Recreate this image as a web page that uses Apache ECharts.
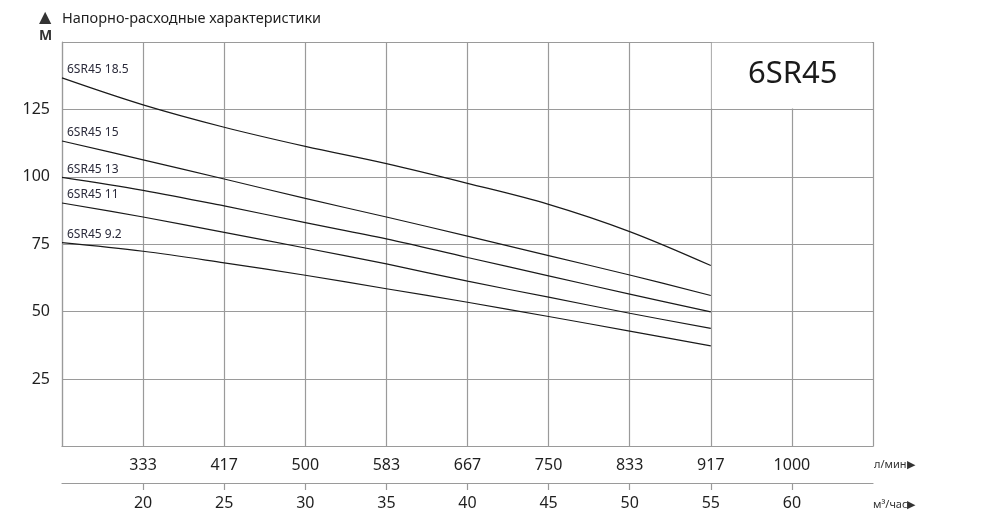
<!DOCTYPE html>
<html>
<head>
<meta charset="utf-8">
<script src="https://cdn.jsdelivr.net/npm/echarts@6/dist/echarts.min.js"></script>
<style>
html,body{margin:0;padding:0;background:#fff;}
#chart{width:993px;height:524px;}
</style>
</head>
<body>
<div id="chart"></div>
<script>
// расход, м3/час
var flow = [15, 20, 25, 30, 35, 40, 45, 50, 55];
// тики нижних осей
var m3Ticks = [20, 25, 30, 35, 40, 45, 50, 55, 60];
var lminTicks = ['333', '417', '500', '583', '667', '750', '833', '917', '1000'];
// напор, м
var head185 = [136.7, 126.7, 118.4, 111.3, 104.9, 97.6, 89.8, 79.7, 67.1];
var head15 = [113.3, 106.3, 99.2, 92.0, 85.1, 78.0, 70.8, 63.6, 56.0];
var head13 = [99.8, 95.0, 89.2, 83.0, 77.0, 70.1, 63.3, 56.5, 49.9];
var head11 = [90.3, 85.1, 79.4, 73.6, 67.7, 61.3, 55.4, 49.4, 43.8];
var head92 = [75.6, 72.4, 68.1, 63.5, 58.5, 53.5, 48.2, 42.8, 37.3];
var names = ['6SR45 18.5', '6SR45 15', '6SR45 13', '6SR45 11', '6SR45 9.2'];

var FONT = 'Noto Sans';
var TXT = '#1f1f1f';
var GRID = '#9a9a9a';

function makeSeries(name, vals, extra) {
	var data = [];
	for (var i = 0; i < flow.length; i++) {
		if (i == 0) {
			data.push({
				value: [flow[i], vals[i]],
				label: {
					show: true,
					formatter: name,
					position: [5, -14],
					fontFamily: FONT,
					fontSize: 12,
					color: '#2a2a3a'
				}
			});
		} else {
			data.push([flow[i], vals[i]]);
		}
	}
	var s = {
		name: name,
		type: 'line',
		data: data,
		smooth: 0.35,
		symbol: 'circle',
		symbolSize: 0,
		showSymbol: true,
		silent: true,
		lineStyle: {color: '#1a1a1a', width: 1.2},
		itemStyle: {color: '#1a1a1a'}
	};
	if (extra) {
		for (var k in extra) s[k] = extra[k];
	}
	return s;
}

var myChart = echarts.init(document.getElementById('chart'));
var option = {
	backgroundColor: '#fff',
	animation: false,
	grid: {
		left: 62,
		right: 120,
		top: 42,
		bottom: 77.5
	},
	xAxis: [{
		type: 'value',
		min: 15,
		max: 65,
		interval: 5,
		position: 'bottom',
		axisLine: {show: true, lineStyle: {color: GRID, width: 1.2}},
		axisTick: {show: false},
		splitLine: {show: true, lineStyle: {color: GRID, width: 1.2}},
		axisLabel: {
			showMinLabel: false,
			showMaxLabel: false,
			margin: 11,
			fontFamily: FONT,
			fontSize: 16,
			color: TXT,
			formatter: function(v) {
				var i = m3Ticks.indexOf(v);
				return i >= 0 ? lminTicks[i] : '';
			}
		}
	}, {
		type: 'value',
		min: 15,
		max: 65,
		interval: 5,
		position: 'bottom',
		offset: 36.5,
		axisLine: {show: true, lineStyle: {color: GRID, width: 1.2}},
		axisTick: {show: true, inside: false, length: 7, lineStyle: {color: GRID, width: 1.2}},
		splitLine: {show: false},
		axisLabel: {
			showMinLabel: false,
			showMaxLabel: false,
			margin: 12,
			fontFamily: FONT,
			fontSize: 16,
			color: TXT,
			formatter: function(v) {
				return m3Ticks.indexOf(v) >= 0 ? String(v) : '';
			}
		}
	}],
	yAxis: {
		type: 'value',
		min: 0,
		max: 150,
		interval: 25,
		axisLine: {show: true, lineStyle: {color: GRID, width: 1.2}},
		axisTick: {show: false},
		splitLine: {show: true, lineStyle: {color: GRID, width: 1.2}},
		axisLabel: {
			showMinLabel: false,
			showMaxLabel: false,
			margin: 12,
			fontFamily: FONT,
			fontSize: 16,
			color: TXT
		}
	},
	graphic: [{
		type: 'text',
		left: 39,
		top: 10,
		z: 100,
		style: {text: '▲', font: '16px "DejaVu Sans"', fill: '#333'}
	}, {
		type: 'text',
		left: 62,
		top: 11,
		z: 100,
		style: {text: 'Напорно-расходные характеристики', font: '14.5px "' + FONT + '"', fill: TXT}
	}, {
		type: 'text',
		left: 39,
		top: 29,
		z: 100,
		style: {text: 'М', font: 'bold 14px "' + FONT + '"', fill: '#333'}
	}, {
		type: 'text',
		left: 748,
		top: 59,
		z: 100,
		style: {text: '6SR45', font: '31px "' + FONT + '"', fill: '#1a1a1a'}
	}, {
		type: 'text',
		left: 874,
		top: 459,
		z: 100,
		style: {text: 'л/мин▶', font: '11px "' + FONT + '"', fill: '#333'}
	}, {
		type: 'text',
		left: 873,
		top: 499,
		z: 100,
		style: {text: 'м³/час▶', font: '11px "' + FONT + '"', fill: '#333'}
	}],
	series: [
		makeSeries(names[0], head185, {
			markArea: {
				silent: true,
				itemStyle: {color: '#fff', borderWidth: 0},
				data: [[{coord: [55.06, 125.3]}, {coord: [64.94, 149.7]}]]
			}
		}),
		makeSeries(names[1], head15),
		makeSeries(names[2], head13),
		makeSeries(names[3], head11),
		makeSeries(names[4], head92)
	]
};
myChart.setOption(option);
</script>
</body>
</html>
